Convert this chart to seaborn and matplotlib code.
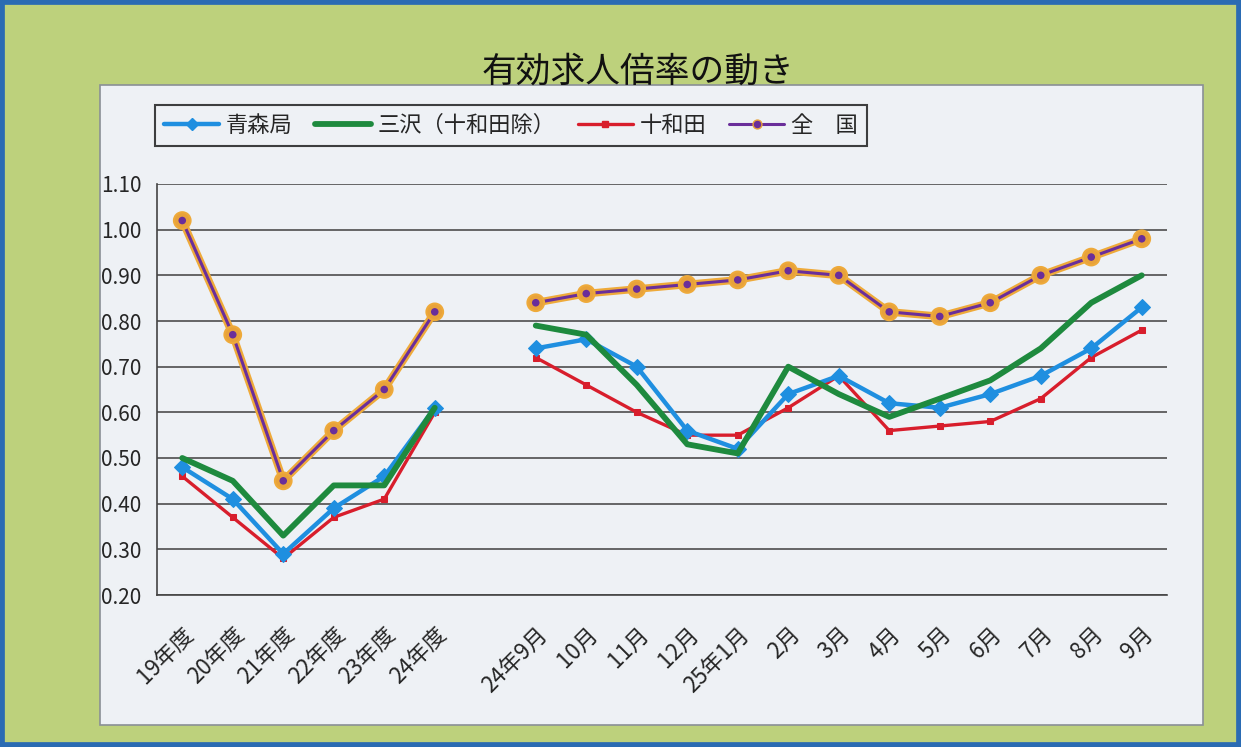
import numpy as np
import pandas as pd
import seaborn as sns
import matplotlib.pyplot as plt
import matplotlib.patheffects as pe
from matplotlib.lines import Line2D
from matplotlib.patches import Rectangle

# categories: 6 fiscal years, one empty slot, 13 months
years = ["19年度", "20年度", "21年度", "22年度", "23年度", "24年度"]
months = ["24年9月", "10月", "11月", "12月", "25年1月", "2月", "3月",
          "4月", "5月", "6月", "7月", "8月", "9月"]
labels = years + [""] + months

aomori_y = [0.48, 0.41, 0.29, 0.39, 0.46, 0.61]
misawa_y = [0.50, 0.45, 0.33, 0.44, 0.44, 0.61]
towada_y = [0.46, 0.37, 0.28, 0.37, 0.41, 0.60]
zenkoku_y = [1.02, 0.77, 0.45, 0.56, 0.65, 0.82]

aomori_m = [0.74, 0.76, 0.70, 0.56, 0.52, 0.64, 0.68, 0.62, 0.61, 0.64, 0.68, 0.74, 0.83]
misawa_m = [0.79, 0.77, 0.66, 0.53, 0.51, 0.70, 0.64, 0.59, 0.63, 0.67, 0.74, 0.84, 0.90]
towada_m = [0.72, 0.66, 0.60, 0.55, 0.55, 0.61, 0.68, 0.56, 0.57, 0.58, 0.63, 0.72, 0.78]
zenkoku_m = [0.84, 0.86, 0.87, 0.88, 0.89, 0.91, 0.90, 0.82, 0.81, 0.84, 0.90, 0.94, 0.98]

names = ["青森局", "三沢（十和田除）", "十和田", "全　国"]

sns.set_style("white")
plt.rcParams['font.family'] = ['Noto Sans CJK JP', 'DejaVu Sans']

rows = []
series = {
    names[0]: (aomori_y, aomori_m),
    names[1]: (misawa_y, misawa_m),
    names[2]: (towada_y, towada_m),
    names[3]: (zenkoku_y, zenkoku_m),
}
for nm, (a, b) in series.items():
    for i, v in enumerate(a):
        rows.append({"name": nm, "x": i, "seg": 0, "val": v})
    for i, v in enumerate(b):
        rows.append({"name": nm, "x": len(years) + 1 + i, "seg": 1, "val": v})
df = pd.DataFrame(rows)

fig = plt.figure(figsize=(12.41, 7.47), dpi=100)
fig.patch.set_facecolor('#bdd17c')
fig.patches.append(Rectangle((0, 0), 1, 1, transform=fig.transFigure, fill=False,
                             edgecolor='#2a6bb3', linewidth=7, zorder=10))
fig.patches.append(Rectangle((100 / 1241, 22 / 747), 1103 / 1241, 640 / 747,
                             transform=fig.transFigure, facecolor='#eef1f5',
                             edgecolor='#8a8f96', linewidth=1.2, zorder=-1))

ax = fig.add_axes([157 / 1241, 152 / 747, 1010 / 1241, 411 / 747])
ax.set_zorder(2)
ax.set_facecolor('none')

styles = {
    names[0]: dict(color='#1f8fe0', lw=3.2, marker='D', ms=8, mec='#1f8fe0'),
    names[1]: dict(color='#1e8a3e', lw=4.2, marker=None),
    names[2]: dict(color='#d81e2c', lw=2.4, marker='s', ms=5, mec='#d81e2c'),
    names[3]: dict(color='#6a2e9a', lw=2.2, marker='o', ms=8, mec='#e8a23a', mew=2.5),
}
order = [names[3], names[2], names[0], names[1]]
for nm in order:
    st = styles[nm]
    sub = df[df["name"] == nm]
    kw = dict(color=st['color'], linewidth=st['lw'])
    if st['marker']:
        kw.update(marker=st['marker'], markersize=st['ms'], markeredgecolor=st['mec'])
        if 'mew' in st:
            kw.update(markeredgewidth=st['mew'])
    n0 = len(ax.lines)
    sns.lineplot(data=sub, x="x", y="val", units="seg", estimator=None,
                 ax=ax, legend=False, **kw)
    if nm == names[3]:
        for ln in ax.lines[n0:]:
            ln.set_path_effects([pe.Stroke(linewidth=5.5, foreground='#eeaa3a'), pe.Normal()])

ax.set_xlim(-0.5, len(labels) - 0.5)
ax.set_ylim(0.2, 1.1)
ax.set_yticks(np.arange(0.2, 1.11, 0.1))
ax.set_yticklabels([f"{v:.2f}" for v in np.arange(0.2, 1.11, 0.1)], fontsize=15)
ax.set_xticks(range(len(labels)))
ax.set_xticklabels(labels, rotation=45, ha='right', rotation_mode='anchor', fontsize=16)
ax.set_xticks(np.arange(-0.5, len(labels)), minor=True)
ax.tick_params(axis='x', which='major', length=0, pad=20)
ax.tick_params(axis='x', which='minor', length=6, width=1, color='#444', direction='out')
ax.tick_params(axis='y', length=7, width=1, color='#444', direction='out', pad=4)
ax.yaxis.grid(True, color='#5a5a5a', linewidth=1.3)
ax.set_axisbelow(True)
for s in ['top', 'right']:
    ax.spines[s].set_visible(False)
for s in ['left', 'bottom']:
    ax.spines[s].set_color('#444')
    ax.spines[s].set_linewidth(1.2)
ax.set_xlabel("")
ax.set_ylabel("")

fig.text(638 / 1241, 675 / 747, "有効求人倍率の動き", ha='center', va='center',
         fontsize=25, color='#111')

handles = []
for nm in names:
    st = styles[nm]
    h = Line2D([], [], color=st['color'], linewidth=st['lw'],
               marker=st['marker'] if st['marker'] else None,
               markersize=(st.get('ms', 0) * 0.8), markeredgecolor=st.get('mec', st['color']),
               markerfacecolor=st['color'])
    handles.append(h)
leg = fig.legend(handles, names, loc='upper left', ncol=4,
                 bbox_to_anchor=(155 / 1241, 642 / 747), borderaxespad=0, frameon=True,
                 fancybox=False, edgecolor='#111', fontsize=16,
                 handlelength=2.5, columnspacing=1.0, borderpad=0.4, handletextpad=0.3)
leg.get_frame().set_linewidth(1.5)
leg.get_frame().set_facecolor('#eef1f5')

fig.savefig("out.png", dpi=100, facecolor=fig.get_facecolor())
